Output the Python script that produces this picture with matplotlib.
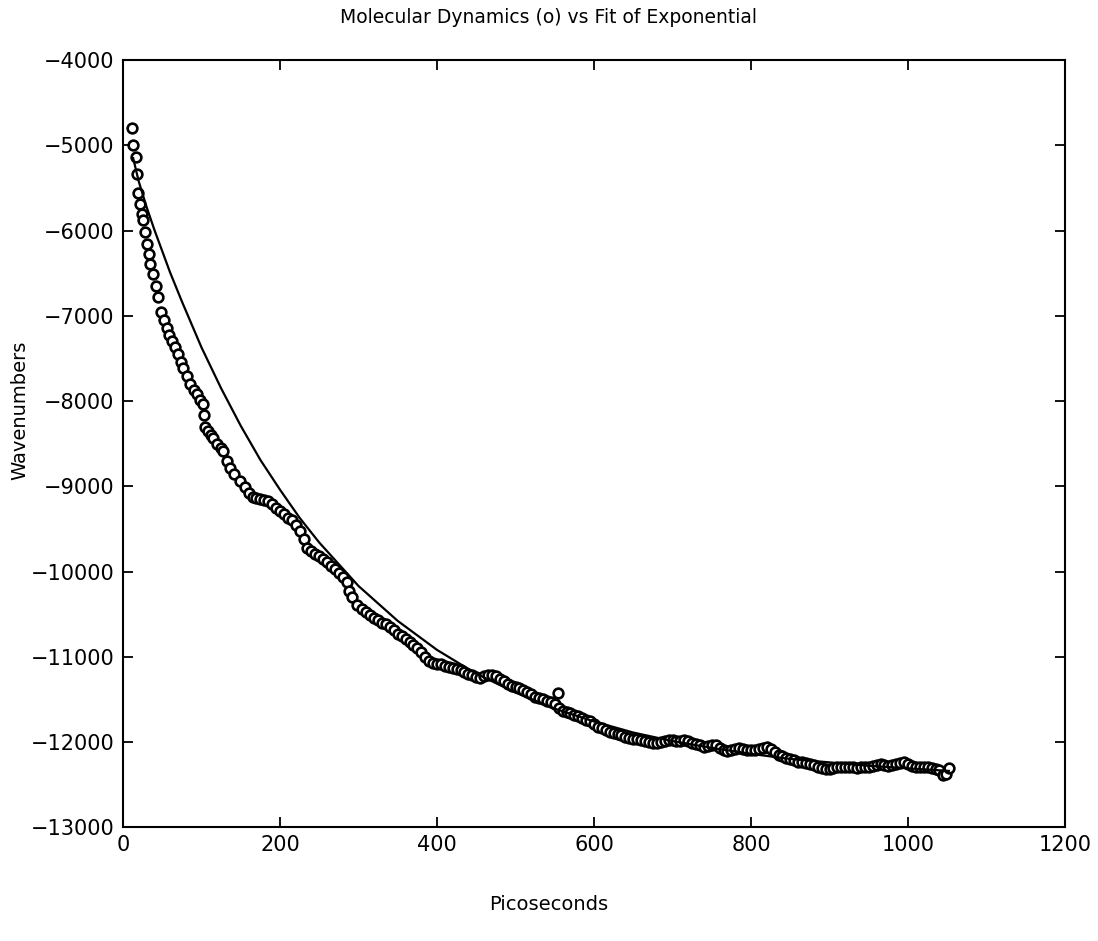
# md_vs_exponential_fit.py

import matplotlib
matplotlib.use('Agg')
import matplotlib.pyplot as plt


# molecular dynamics points (picoseconds, wavenumbers)

md_time = [12, 13, 16, 18, 19.5, 21.7, 24.6, 26, 28.4, 30, 33, 35, 38.6, 42, 45, 49, 52, 55.6, 59, 62,
           66, 70.5, 74, 76.8, 81, 85, 90, 94, 98, 102, 103, 104.5, 108, 112, 115, 120, 125, 128, 132, 136,
           142, 149, 155, 160, 165, 170, 175, 180, 185, 190, 195, 200, 205, 210, 215, 220, 225, 230, 235, 240,
           245, 250, 255, 260, 265, 270, 275, 280, 285, 288, 292, 298, 305, 310, 315, 320, 325, 330, 335, 340,
           345, 350, 355, 360, 365, 370, 375, 380, 385, 390, 395, 400, 405, 410, 415, 420, 425, 430, 435, 440,
           445, 450, 455, 460, 465, 470, 475, 480, 485, 490, 495, 500, 505, 510, 515, 520, 525, 530, 535, 540,
           545, 550, 554, 556, 560, 565, 570, 575, 580, 585, 590, 595, 600, 605, 610, 615, 620, 625, 630, 635,
           640, 645, 650, 655, 660, 665, 670, 675, 680, 685, 690, 695, 700, 705, 710, 715, 720, 725, 730, 735,
           740, 745, 750, 755, 760, 765, 770, 775, 780, 785, 790, 795, 800, 805, 810, 815, 820, 825, 830, 835,
           840, 845, 850, 855, 860, 865, 870, 875, 880, 885, 890, 895, 900, 905, 910, 915, 920, 925, 930, 935,
           940, 945, 950, 955, 960, 965, 970, 975, 980, 985, 990, 995, 1000, 1005, 1010, 1015, 1020, 1025, 1030, 1035,
           1040, 1045, 1048, 1052]

md_wavenumbers = [-4800, -4990, -5140, -5340, -5560, -5690, -5800, -5880, -6020, -6160, -6270, -6390, -6510, -6650, -6780, -6960, -7050, -7140, -7220, -7290,
                  -7370, -7450, -7540, -7610, -7710, -7800, -7870, -7920, -7990, -8040, -8160, -8300, -8350, -8400, -8430, -8500, -8550, -8590, -8700, -8780,
                  -8860, -8940, -9010, -9080, -9120, -9140, -9150, -9160, -9170, -9210, -9250, -9290, -9330, -9370, -9400, -9450, -9520, -9620, -9720, -9760,
                  -9790, -9820, -9850, -9890, -9930, -9970, -10020, -10060, -10120, -10230, -10300, -10390, -10440, -10480, -10510, -10540, -10570, -10600, -10620, -10650,
                  -10690, -10730, -10760, -10790, -10830, -10860, -10900, -10950, -11000, -11050, -11070, -11080, -11090, -11110, -11120, -11130, -11140, -11160, -11180, -11200,
                  -11220, -11240, -11250, -11230, -11220, -11215, -11230, -11260, -11290, -11320, -11340, -11350, -11370, -11390, -11410, -11440, -11470, -11490, -11500, -11520,
                  -11530, -11560, -11430, -11600, -11640, -11650, -11660, -11680, -11700, -11720, -11740, -11760, -11790, -11820, -11840, -11860, -11880, -11900, -11910, -11920,
                  -11940, -11950, -11960, -11970, -11980, -11990, -12000, -12010, -12010, -12000, -11990, -11980, -11980, -11990, -11990, -11980, -11990, -12010, -12030, -12040,
                  -12060, -12050, -12040, -12040, -12070, -12100, -12110, -12100, -12080, -12070, -12080, -12090, -12090, -12090, -12080, -12070, -12060, -12080, -12120, -12150,
                  -12170, -12190, -12200, -12210, -12230, -12240, -12250, -12260, -12270, -12290, -12310, -12320, -12320, -12310, -12300, -12300, -12290, -12290, -12300, -12310,
                  -12300, -12290, -12290, -12280, -12270, -12260, -12270, -12280, -12270, -12260, -12250, -12240, -12260, -12280, -12290, -12290, -12300, -12300, -12310, -12320,
                  -12330, -12390, -12380, -12310]

# exponential fit curve

fit_time = [13, 20, 30, 40, 50, 60, 75, 100, 125, 150, 175, 200, 225, 250, 300, 350, 400, 450, 500, 550,
            600, 650, 700, 750, 800, 850, 900, 950, 1000, 1052]

fit_wavenumbers = [-5150, -5420, -5720, -5990, -6240, -6490, -6830, -7370, -7850, -8290, -8690, -9040, -9370, -9660, -10170, -10580, -10920, -11200, -11420, -11610,
                   -11760, -11890, -11990, -12070, -12140, -12200, -12240, -12280, -12310, -12340]

x_ticks = [0, 200, 400, 600, 800, 1000, 1200]
y_ticks = [-4000, -5000, -6000, -7000, -8000, -9000, -10000, -11000, -12000, -13000]


# plot

plt.rcParams['font.family'] = ['DejaVu Sans']

fig = plt.figure(figsize = (10.98, 9.41), dpi = 100)
ax = fig.add_axes([0.112, 0.121, 0.858, 0.815])

ax.plot(md_time, md_wavenumbers, linestyle = 'none', marker = 'o', markersize = 7,
        markerfacecolor = 'white', markeredgecolor = 'black', markeredgewidth = 1.9)
ax.plot(fit_time, fit_wavenumbers, color = 'black', linewidth = 1.6)

ax.set_xlim(0, 1200)
ax.set_ylim(-13000, -4000)
ax.set_xticks(x_ticks)
ax.set_yticks(y_ticks)
ax.set_yticklabels(['\u2212' + str(abs(v)) for v in y_ticks])

ax.tick_params(direction = 'in', length = 7, width = 1.3, top = True, right = True,
               labelsize = 15, pad = 6)
for spine in ax.spines.values():
    spine.set_linewidth(1.5)

# title and x label sit at the centre of the page, not of the axes
ax.set_title('Molecular Dynamics (o) vs Fit of Exponential', fontsize = 13.5, pad = 27, x = 0.452)
ax.set_xlabel('Picoseconds', fontsize = 14)
ax.xaxis.set_label_coords(0.452, -0.088)
ax.set_ylabel('Wavenumbers', fontsize = 14)
ax.yaxis.set_label_coords(-0.099, 0.544)

fig.savefig('out.png', dpi = 100)
